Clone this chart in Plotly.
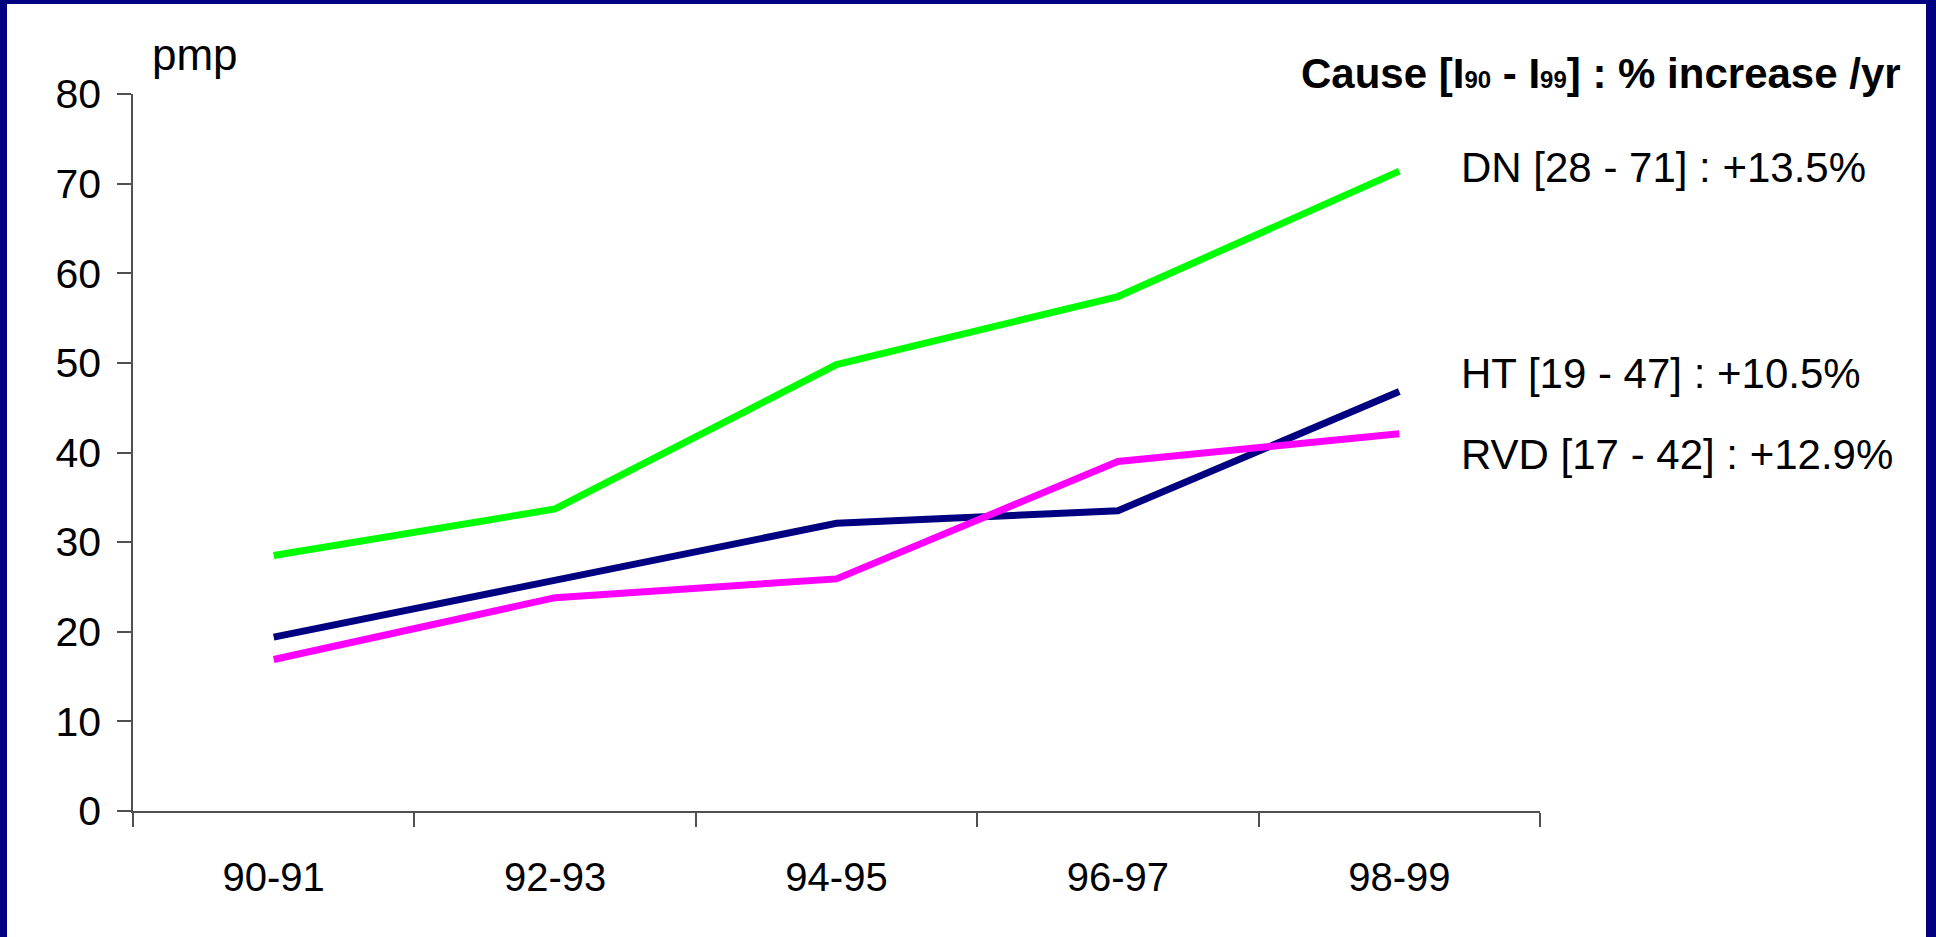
import plotly.graph_objects as go

periods = ["90-91", "92-93", "94-95", "96-97", "98-99"]
dn_values = [28.5, 33.7, 49.8, 57.4, 71.4]
ht_values = [19.4, 25.7, 32.1, 33.5, 46.8]
rvd_values = [16.9, 23.8, 25.9, 39.0, 42.1]
y_ticks = [0, 10, 20, 30, 40, 50, 60, 70, 80]

series_names = ["DN", "HT", "RVD"]
series_labels = ["DN [28 - 71] : +13.5%", "HT [19 - 47] : +10.5%", "RVD [17 - 42] : +12.9%"]
series_colors = ["#00FF00", "#000080", "#FF00FF"]
sub_open = "<span style='font-size:24px'>"
title_text = ("<b>Cause [I" + sub_open + "90</span> - I" + sub_open + "99</span>] : % increase /yr</b>")
y_title = "pmp"

W, H = 1936, 937
L, R, T, B = 133, 396, 94, 126
PW, PH = W - L - R, H - T - B
FONT = "Liberation Sans, Arial, sans-serif"


def px(x):
    return (x - L) / PW


def py(y):
    return 1 - (y - T) / PH


fig = go.Figure()
for name, vals, col in zip(series_names, [dn_values, ht_values, rvd_values], series_colors):
    fig.add_trace(go.Scatter(x=periods, y=vals, mode="lines", name=name,
                             line=dict(color=col, width=7), showlegend=False))

axis_col = "#505050"
fig.update_layout(
    width=W, height=H,
    margin=dict(l=L, r=R, t=T, b=B, pad=0),
    paper_bgcolor="white", plot_bgcolor="white",
    font=dict(family=FONT, color="black", size=40),
    xaxis=dict(type="category", range=[-0.5, 4.5], showgrid=False, zeroline=False,
               showline=True, linecolor=axis_col, linewidth=1.5,
               ticks="outside", tickson="boundaries", ticklen=14, tickcolor=axis_col, tickwidth=1.5,
               tickfont=dict(size=40), ticklabelstandoff=30),
    yaxis=dict(range=[0, 80], tickvals=y_ticks, showgrid=False, zeroline=False,
               showline=True, linecolor=axis_col, linewidth=1.5,
               ticks="outside", ticklen=14, tickcolor=axis_col, tickwidth=1.5,
               tickfont=dict(size=41), ticklabelstandoff=8),
)

ann = []
ann.append(dict(text=title_text, x=px(1903), y=py(73), xanchor="right", yanchor="middle",
                font=dict(size=42)))
ann.append(dict(text=y_title, x=px(150), y=py(54), xanchor="left", yanchor="middle",
                font=dict(size=44)))
for lab, yy in zip(series_labels, [167, 373, 454]):
    ann.append(dict(text=lab, x=px(1459), y=py(yy), xanchor="left", yanchor="middle",
                    font=dict(size=42)))
for a in ann:
    a.update(xref="paper", yref="paper", showarrow=False)
fig.update_layout(annotations=ann)

navy = "#000080"
shapes = [
    dict(x0=px(0), x1=px(7), y0=py(0), y1=py(H)),
    dict(x0=px(0), x1=px(W), y0=py(0), y1=py(4)),
    dict(x0=px(1926), x1=px(W), y0=py(0), y1=py(H)),
]
for s in shapes:
    s.update(type="rect", xref="paper", yref="paper", fillcolor=navy, line=dict(width=0), layer="above")
fig.update_layout(shapes=shapes)

fig.write_html("out.html", config={"displayModeBar": False},
               post_script="document.body.style.margin='0';document.body.style.overflow='hidden';")
